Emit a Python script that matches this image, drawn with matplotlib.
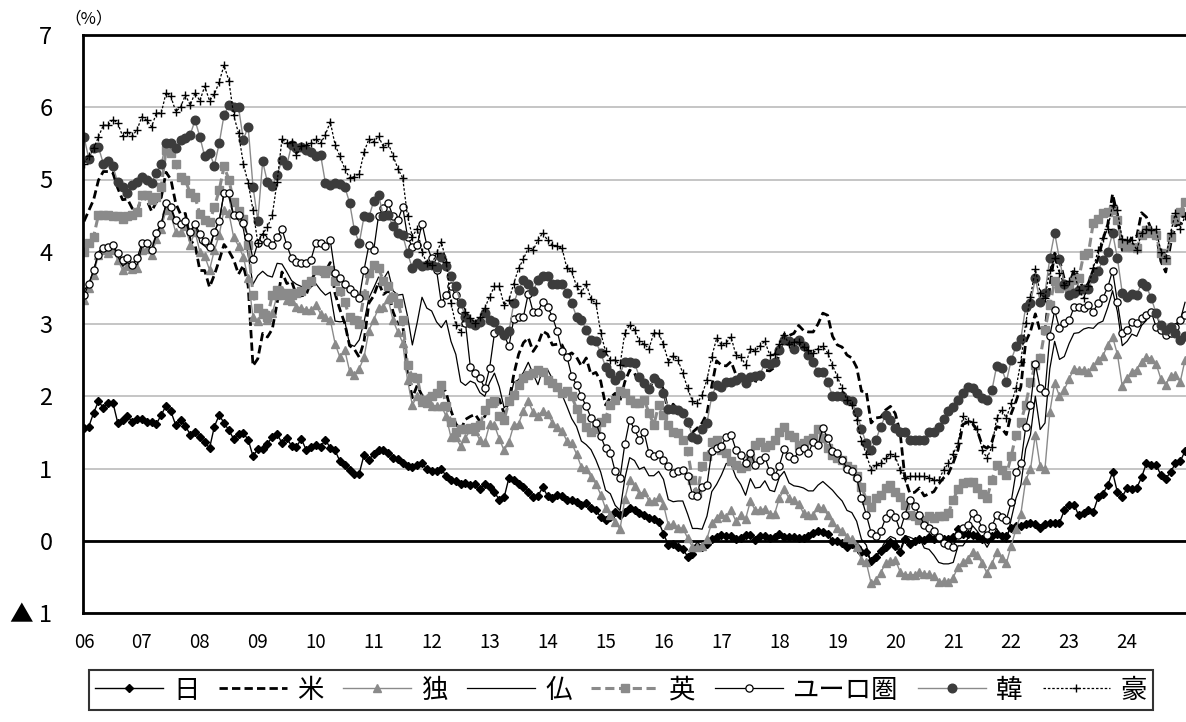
import numpy as np
import matplotlib
matplotlib.use('Agg')
import matplotlib.pyplot as plt

plt.rcParams['font.family'] = ['Noto Sans CJK JP', 'DejaVu Sans']

# 10-year government bond yields, monthly, Jan 2006 .. Jan 2025 (%)
year_labels = ['06', '07', '08', '09', '10', '11', '12', '13', '14', '15',
               '16', '17', '18', '19', '20', '21', '22', '23', '24']

japan = [
    1.56, 1.58, 1.77, 1.93, 1.84, 1.91, 1.91, 1.63, 1.67, 1.72, 1.65, 1.68,
    1.69, 1.64, 1.65, 1.62, 1.74, 1.87, 1.79, 1.60, 1.67, 1.59, 1.47, 1.51,
    1.44, 1.37, 1.28, 1.58, 1.74, 1.63, 1.53, 1.41, 1.48, 1.49, 1.40, 1.17,
    1.27, 1.27, 1.34, 1.44, 1.48, 1.35, 1.42, 1.31, 1.30, 1.41, 1.26, 1.30,
    1.32, 1.30, 1.40, 1.28, 1.25, 1.10, 1.05, 0.98, 0.93, 0.93, 1.19, 1.12,
    1.20, 1.26, 1.25, 1.21, 1.15, 1.13, 1.07, 1.03, 1.02, 1.05, 1.07, 0.99,
    0.96, 0.97, 1.00, 0.89, 0.84, 0.83, 0.78, 0.80, 0.77, 0.78, 0.71, 0.79,
    0.74, 0.67, 0.57, 0.60, 0.87, 0.84, 0.78, 0.74, 0.68, 0.60, 0.62, 0.74,
    0.62, 0.59, 0.64, 0.62, 0.57, 0.56, 0.53, 0.50, 0.52, 0.45, 0.42, 0.33,
    0.29, 0.33, 0.40, 0.35, 0.40, 0.46, 0.42, 0.38, 0.35, 0.31, 0.30, 0.26,
    0.10, -0.06, -0.05, -0.09, -0.11, -0.22, -0.19, -0.07, -0.09, -0.05, 0.02, 0.05,
    0.08, 0.06, 0.07, 0.02, 0.04, 0.08, 0.08, 0.01, 0.07, 0.07, 0.04, 0.05,
    0.09, 0.05, 0.05, 0.05, 0.04, 0.04, 0.06, 0.11, 0.13, 0.12, 0.09, 0.00,
    0.00, -0.03, -0.09, -0.05, -0.09, -0.16, -0.16, -0.28, -0.22, -0.14, -0.08, -0.02,
    -0.07, -0.16, 0.02, -0.04, 0.00, 0.02, 0.01, 0.05, 0.02, 0.04, 0.03, 0.02,
    0.05, 0.16, 0.09, 0.09, 0.08, 0.06, 0.02, 0.02, 0.07, 0.10, 0.07, 0.07,
    0.18, 0.20, 0.21, 0.23, 0.24, 0.23, 0.18, 0.23, 0.25, 0.25, 0.25, 0.42,
    0.49, 0.50, 0.35, 0.39, 0.43, 0.40, 0.60, 0.65, 0.77, 0.95, 0.67, 0.61,
    0.73, 0.71, 0.73, 0.88, 1.07, 1.05, 1.05, 0.91, 0.86, 0.95, 1.07, 1.10,
    1.24]

us = [
    4.42, 4.57, 4.72, 4.99, 5.11, 5.11, 5.09, 4.88, 4.72, 4.73, 4.60, 4.56,
    4.76, 4.72, 4.56, 4.69, 4.75, 5.10, 5.00, 4.67, 4.52, 4.53, 4.15, 4.10,
    3.74, 3.74, 3.51, 3.68, 3.88, 4.10, 4.01, 3.89, 3.69, 3.81, 3.53, 2.42,
    2.52, 2.87, 2.82, 2.93, 3.29, 3.72, 3.56, 3.59, 3.40, 3.39, 3.40, 3.59,
    3.73, 3.69, 3.73, 3.85, 3.42, 3.20, 3.01, 2.70, 2.65, 2.54, 2.76, 3.29,
    3.39, 3.58, 3.41, 3.46, 3.17, 3.00, 3.00, 2.30, 1.98, 2.15, 2.01, 1.98,
    1.97, 1.97, 2.17, 2.05, 1.80, 1.62, 1.53, 1.68, 1.72, 1.75, 1.65, 1.72,
    1.91, 1.98, 1.96, 1.76, 1.93, 2.30, 2.58, 2.74, 2.81, 2.62, 2.72, 2.90,
    2.86, 2.71, 2.72, 2.71, 2.56, 2.60, 2.54, 2.42, 2.53, 2.30, 2.33, 2.21,
    1.88, 1.98, 2.04, 1.94, 2.20, 2.36, 2.32, 2.17, 2.17, 2.07, 2.26, 2.24,
    2.09, 1.78, 1.89, 1.81, 1.81, 1.64, 1.50, 1.56, 1.63, 1.76, 2.14, 2.49,
    2.43, 2.42, 2.48, 2.30, 2.30, 2.19, 2.32, 2.21, 2.20, 2.36, 2.35, 2.40,
    2.58, 2.86, 2.84, 2.87, 2.98, 2.91, 2.89, 2.89, 3.00, 3.15, 3.12, 2.83,
    2.71, 2.68, 2.57, 2.53, 2.40, 2.07, 2.06, 1.63, 1.70, 1.71, 1.81, 1.86,
    1.76, 1.50, 0.87, 0.66, 0.67, 0.73, 0.62, 0.65, 0.68, 0.79, 0.87, 0.93,
    1.08, 1.26, 1.61, 1.64, 1.62, 1.52, 1.32, 1.28, 1.37, 1.58, 1.56, 1.47,
    1.76, 1.93, 2.13, 2.75, 2.90, 3.14, 2.90, 2.90, 3.52, 3.98, 3.89, 3.62,
    3.53, 3.75, 3.66, 3.46, 3.57, 3.75, 3.90, 4.17, 4.38, 4.80, 4.50, 4.02,
    4.06, 4.21, 4.21, 4.54, 4.48, 4.31, 4.25, 3.87, 3.72, 4.10, 4.36, 4.39,
    4.55]

germany = [
    3.33, 3.50, 3.68, 3.96, 4.02, 3.98, 4.02, 3.89, 3.75, 3.80, 3.76, 3.77,
    4.03, 4.04, 3.96, 4.17, 4.32, 4.58, 4.51, 4.27, 4.27, 4.35, 4.10, 4.28,
    4.00, 3.94, 3.75, 4.02, 4.23, 4.58, 4.54, 4.20, 4.08, 3.93, 3.63, 3.10,
    3.04, 3.14, 3.05, 3.15, 3.40, 3.47, 3.33, 3.32, 3.24, 3.22, 3.20, 3.19,
    3.26, 3.14, 3.09, 3.06, 2.73, 2.54, 2.64, 2.35, 2.30, 2.38, 2.54, 2.91,
    3.06, 3.22, 3.24, 3.34, 3.05, 2.89, 2.74, 2.22, 1.88, 2.00, 1.92, 1.97,
    1.87, 1.87, 1.87, 1.72, 1.43, 1.43, 1.31, 1.42, 1.54, 1.52, 1.39, 1.36,
    1.61, 1.60, 1.41, 1.25, 1.37, 1.60, 1.62, 1.80, 1.93, 1.78, 1.73, 1.80,
    1.76, 1.63, 1.57, 1.52, 1.38, 1.35, 1.20, 1.02, 1.00, 0.88, 0.79, 0.64,
    0.45, 0.35, 0.26, 0.16, 0.58, 0.84, 0.76, 0.65, 0.68, 0.55, 0.55, 0.60,
    0.50, 0.22, 0.23, 0.18, 0.17, 0.04, -0.09, -0.08, -0.07, 0.03, 0.25, 0.32,
    0.37, 0.33, 0.42, 0.27, 0.36, 0.30, 0.55, 0.42, 0.43, 0.44, 0.37, 0.37,
    0.59, 0.71, 0.59, 0.56, 0.51, 0.38, 0.35, 0.35, 0.47, 0.45, 0.36, 0.26,
    0.18, 0.14, 0.05, 0.02, -0.09, -0.26, -0.30, -0.59, -0.55, -0.44, -0.31, -0.28,
    -0.26, -0.43, -0.47, -0.47, -0.47, -0.43, -0.46, -0.46, -0.49, -0.57, -0.56, -0.57,
    -0.51, -0.36, -0.30, -0.25, -0.15, -0.20, -0.31, -0.45, -0.32, -0.15, -0.24, -0.31,
    -0.07, 0.16, 0.37, 0.84, 0.99, 1.47, 1.03, 1.00, 1.78, 2.19, 2.00, 2.09,
    2.24, 2.38, 2.37, 2.37, 2.33, 2.42, 2.50, 2.56, 2.71, 2.82, 2.58, 2.14,
    2.25, 2.34, 2.37, 2.48, 2.55, 2.52, 2.45, 2.24, 2.16, 2.28, 2.30, 2.20,
    2.50]

france = [
    3.46, 3.56, 3.74, 4.00, 4.06, 4.08, 4.09, 3.94, 3.80, 3.85, 3.81, 3.82,
    4.07, 4.10, 4.03, 4.23, 4.39, 4.66, 4.60, 4.41, 4.40, 4.43, 4.21, 4.41,
    4.13, 4.08, 4.02, 4.27, 4.44, 4.81, 4.76, 4.48, 4.44, 4.32, 3.95, 3.55,
    3.67, 3.73, 3.67, 3.65, 3.84, 3.83, 3.72, 3.60, 3.55, 3.52, 3.50, 3.51,
    3.56, 3.47, 3.40, 3.44, 3.04, 3.03, 3.04, 2.72, 2.69, 2.78, 3.03, 3.36,
    3.50, 3.65, 3.62, 3.73, 3.46, 3.40, 3.41, 3.11, 2.71, 3.02, 3.37, 3.22,
    3.18, 3.03, 2.95, 3.05, 2.76, 2.58, 2.20, 2.15, 2.21, 2.18, 2.05, 2.00,
    2.19, 2.32, 2.13, 1.84, 1.91, 2.19, 2.23, 2.33, 2.47, 2.31, 2.16, 2.37,
    2.37, 2.24, 2.17, 2.02, 1.86, 1.69, 1.58, 1.38, 1.33, 1.26, 1.12, 0.95,
    0.70, 0.65, 0.49, 0.42, 0.86, 1.15, 1.11, 0.99, 1.02, 0.90, 0.90, 0.96,
    0.85, 0.57, 0.54, 0.55, 0.55, 0.37, 0.17, 0.17, 0.16, 0.34, 0.68, 0.78,
    0.91, 1.07, 1.06, 0.88, 0.78, 0.63, 0.86, 0.73, 0.74, 0.83, 0.70, 0.68,
    0.88, 0.96, 0.80, 0.76, 0.75, 0.73, 0.69, 0.69, 0.77, 0.82, 0.76, 0.70,
    0.62, 0.55, 0.42, 0.39, 0.27, 0.02, -0.06, -0.31, -0.22, -0.12, 0.00, 0.06,
    0.03, -0.14, 0.07, 0.05, 0.02, 0.04, -0.10, -0.12, -0.20, -0.30, -0.32, -0.32,
    -0.30, -0.07, -0.07, 0.03, 0.21, 0.13, 0.03, -0.09, 0.03, 0.17, 0.05, -0.02,
    0.30, 0.59, 0.77, 1.27, 1.47, 2.00, 1.54, 1.63, 2.38, 2.76, 2.51, 2.55,
    2.73, 2.87, 2.88, 2.93, 2.95, 2.94, 3.01, 3.04, 3.23, 3.46, 3.17, 2.70,
    2.76, 2.86, 2.83, 2.98, 3.05, 3.18, 3.17, 2.92, 2.80, 2.88, 3.00, 3.05,
    3.30]

uk = [
    4.00, 4.12, 4.21, 4.51, 4.51, 4.51, 4.49, 4.49, 4.46, 4.49, 4.51, 4.55,
    4.79, 4.79, 4.72, 4.76, 4.90, 5.41, 5.36, 5.22, 5.04, 4.99, 4.81, 4.76,
    4.52, 4.44, 4.41, 4.62, 4.85, 5.18, 5.00, 4.69, 4.57, 4.46, 4.10, 3.40,
    3.22, 3.15, 3.10, 3.40, 3.47, 3.40, 3.43, 3.40, 3.43, 3.45, 3.55, 3.60,
    3.75, 3.75, 3.70, 3.75, 3.60, 3.45, 3.30, 3.10, 3.05, 3.00, 3.40, 3.70,
    3.82, 3.77, 3.60, 3.52, 3.38, 3.29, 3.06, 2.43, 2.27, 2.25, 1.95, 1.90,
    2.00, 2.04, 2.16, 1.86, 1.65, 1.51, 1.54, 1.54, 1.56, 1.58, 1.60, 1.81,
    1.90, 1.93, 1.72, 1.67, 1.93, 2.02, 2.16, 2.25, 2.30, 2.32, 2.37, 2.34,
    2.23, 2.18, 2.13, 2.04, 2.07, 2.00, 1.83, 1.70, 1.58, 1.51, 1.54, 1.65,
    1.70, 1.88, 1.95, 2.07, 2.04, 1.95, 1.90, 1.90, 1.95, 1.77, 1.60, 1.88,
    1.74, 1.60, 1.51, 1.49, 1.40, 1.24, 0.84, 0.66, 1.03, 1.17, 1.37, 1.40,
    1.26, 1.21, 1.10, 1.05, 1.01, 1.03, 1.14, 1.33, 1.37, 1.30, 1.33, 1.40,
    1.50, 1.58, 1.47, 1.44, 1.33, 1.35, 1.40, 1.42, 1.54, 1.42, 1.28, 1.19,
    1.14, 1.12, 1.03, 1.00, 0.90, 0.75, 0.57, 0.47, 0.59, 0.64, 0.73, 0.77,
    0.68, 0.61, 0.50, 0.36, 0.34, 0.29, 0.29, 0.34, 0.31, 0.34, 0.34, 0.38,
    0.57, 0.71, 0.80, 0.82, 0.82, 0.73, 0.65, 0.59, 0.84, 1.05, 0.98, 0.91,
    1.17, 1.47, 1.65, 1.88, 2.20, 2.43, 2.53, 2.92, 3.26, 3.59, 3.50, 3.52,
    3.50, 3.61, 3.63, 3.96, 3.98, 4.40, 4.45, 4.53, 4.55, 4.58, 4.44, 4.12,
    4.07, 4.07, 4.05, 4.23, 4.30, 4.26, 4.23, 3.98, 3.89, 4.20, 4.45, 4.55,
    4.69]

euro = [
    3.40, 3.55, 3.75, 3.96, 4.05, 4.07, 4.09, 3.98, 3.89, 3.91, 3.82, 3.91,
    4.12, 4.12, 4.02, 4.26, 4.39, 4.67, 4.62, 4.44, 4.39, 4.42, 4.28, 4.39,
    4.25, 4.15, 4.07, 4.28, 4.42, 4.81, 4.81, 4.51, 4.51, 4.40, 4.21, 3.90,
    4.12, 4.19, 4.14, 4.09, 4.20, 4.32, 4.09, 3.91, 3.86, 3.84, 3.84, 3.89,
    4.12, 4.12, 4.08, 4.16, 3.70, 3.63, 3.56, 3.49, 3.43, 3.36, 3.75, 4.09,
    4.02, 4.50, 4.60, 4.67, 4.49, 4.44, 4.62, 4.21, 4.06, 4.09, 4.39, 4.09,
    3.91, 3.75, 3.29, 3.40, 3.52, 3.40, 3.20, 3.01, 2.41, 2.32, 2.25, 2.11,
    2.39, 2.87, 2.92, 2.85, 2.69, 3.07, 3.10, 3.10, 3.42, 3.17, 3.17, 3.31,
    3.24, 3.10, 2.90, 2.62, 2.55, 2.28, 2.16, 2.00, 1.86, 1.70, 1.63, 1.45,
    1.28, 1.22, 0.96, 0.87, 1.34, 1.67, 1.54, 1.40, 1.50, 1.21, 1.17, 1.20,
    1.12, 1.04, 0.94, 0.97, 0.98, 0.89, 0.64, 0.62, 0.74, 0.77, 1.24, 1.28,
    1.31, 1.44, 1.47, 1.26, 1.18, 1.08, 1.22, 1.05, 1.12, 1.16, 0.96, 0.89,
    1.04, 1.27, 1.17, 1.13, 1.24, 1.29, 1.21, 1.37, 1.33, 1.56, 1.42, 1.24,
    1.21, 1.12, 1.00, 0.96, 0.87, 0.59, 0.36, 0.11, 0.06, 0.14, 0.31, 0.38,
    0.33, 0.14, 0.36, 0.57, 0.48, 0.36, 0.22, 0.18, 0.13, 0.05, -0.03, -0.06,
    -0.08, 0.08, 0.18, 0.22, 0.38, 0.31, 0.18, 0.08, 0.20, 0.36, 0.33, 0.29,
    0.54, 0.95, 1.07, 1.57, 1.88, 2.45, 2.11, 2.06, 2.83, 3.19, 2.94, 3.01,
    3.05, 3.23, 3.24, 3.22, 3.26, 3.17, 3.29, 3.36, 3.51, 3.74, 3.30, 2.87,
    2.92, 3.03, 3.01, 3.08, 3.13, 3.17, 2.96, 2.92, 2.85, 2.87, 2.96, 3.05,
    3.12]

korea = [
    5.59, 5.29, 5.43, 5.45, 5.22, 5.25, 5.18, 4.96, 4.90, 4.81, 4.92, 4.97,
    5.04, 4.99, 4.95, 5.09, 5.22, 5.50, 5.50, 5.43, 5.55, 5.58, 5.62, 5.82,
    5.59, 5.32, 5.37, 5.19, 5.50, 5.89, 6.03, 6.00, 6.00, 5.55, 5.73, 4.90,
    4.43, 5.25, 4.96, 4.91, 5.06, 5.27, 5.20, 5.48, 5.43, 5.45, 5.41, 5.38,
    5.32, 5.34, 4.95, 4.92, 4.95, 4.94, 4.90, 4.68, 4.30, 4.12, 4.49, 4.48,
    4.70, 4.79, 4.49, 4.51, 4.35, 4.26, 4.23, 3.98, 3.77, 3.84, 3.80, 3.82,
    3.82, 3.79, 3.93, 3.80, 3.66, 3.52, 3.29, 3.10, 3.02, 2.99, 3.03, 3.15,
    3.06, 3.03, 2.92, 2.85, 2.90, 3.29, 3.47, 3.61, 3.56, 3.45, 3.61, 3.67,
    3.66, 3.55, 3.55, 3.55, 3.43, 3.29, 3.10, 3.06, 2.92, 2.78, 2.76, 2.60,
    2.41, 2.32, 2.23, 2.30, 2.48, 2.48, 2.46, 2.27, 2.19, 2.10, 2.25, 2.19,
    2.04, 1.83, 1.83, 1.81, 1.77, 1.65, 1.44, 1.41, 1.54, 1.63, 2.00, 2.16,
    2.13, 2.20, 2.20, 2.23, 2.27, 2.19, 2.27, 2.28, 2.30, 2.46, 2.45, 2.48,
    2.64, 2.78, 2.76, 2.66, 2.78, 2.69, 2.57, 2.47, 2.33, 2.34, 2.20, 2.00,
    2.00, 2.00, 1.95, 1.93, 1.78, 1.54, 1.35, 1.26, 1.40, 1.58, 1.74, 1.67,
    1.56, 1.51, 1.51, 1.40, 1.40, 1.40, 1.40, 1.51, 1.51, 1.58, 1.68, 1.80,
    1.85, 1.95, 2.04, 2.13, 2.11, 2.04, 1.97, 1.95, 2.08, 2.42, 2.39, 2.20,
    2.50, 2.69, 2.79, 3.24, 3.29, 3.63, 3.31, 3.43, 3.91, 4.26, 3.90, 3.56,
    3.40, 3.43, 3.47, 3.49, 3.49, 3.63, 3.73, 3.89, 4.00, 4.26, 3.91, 3.43,
    3.38, 3.42, 3.40, 3.57, 3.52, 3.36, 3.15, 2.99, 2.92, 2.96, 2.87, 2.78,
    2.83]

australia = [
    5.22, 5.32, 5.43, 5.59, 5.75, 5.75, 5.83, 5.78, 5.60, 5.66, 5.60, 5.69,
    5.87, 5.82, 5.73, 5.92, 5.92, 6.20, 6.15, 5.94, 6.00, 6.17, 6.03, 6.20,
    6.09, 6.29, 6.09, 6.18, 6.35, 6.58, 6.37, 5.89, 5.64, 5.22, 4.95, 4.58,
    4.12, 4.25, 4.34, 4.51, 4.97, 5.56, 5.50, 5.52, 5.34, 5.46, 5.48, 5.50,
    5.56, 5.50, 5.62, 5.80, 5.48, 5.32, 5.15, 5.02, 5.04, 5.08, 5.38, 5.56,
    5.52, 5.60, 5.45, 5.50, 5.33, 5.15, 5.02, 4.49, 4.21, 4.32, 4.00, 3.84,
    3.82, 3.98, 4.14, 3.86, 3.29, 2.99, 2.89, 3.17, 3.08, 3.02, 3.10, 3.22,
    3.38, 3.52, 3.52, 3.26, 3.33, 3.56, 3.77, 3.90, 4.05, 4.02, 4.16, 4.26,
    4.16, 4.09, 4.08, 4.05, 3.77, 3.73, 3.52, 3.43, 3.56, 3.34, 3.29, 2.88,
    2.62, 2.50, 2.50, 2.43, 2.88, 2.99, 2.92, 2.76, 2.72, 2.66, 2.88, 2.87,
    2.72, 2.48, 2.56, 2.50, 2.32, 2.11, 1.93, 1.90, 2.02, 2.23, 2.55, 2.80,
    2.71, 2.74, 2.82, 2.57, 2.55, 2.43, 2.66, 2.62, 2.70, 2.76, 2.57, 2.59,
    2.73, 2.85, 2.72, 2.75, 2.75, 2.68, 2.64, 2.60, 2.66, 2.69, 2.60, 2.43,
    2.27, 2.11, 1.95, 1.88, 1.67, 1.38, 1.20, 0.98, 1.05, 1.07, 1.14, 1.20,
    1.17, 0.98, 0.87, 0.89, 0.89, 0.89, 0.89, 0.87, 0.84, 0.84, 0.98, 1.07,
    1.20, 1.35, 1.72, 1.66, 1.65, 1.54, 1.26, 1.14, 1.30, 1.70, 1.81, 1.70,
    1.90, 2.11, 2.48, 3.01, 3.38, 3.76, 3.43, 3.36, 3.75, 3.91, 3.70, 3.54,
    3.59, 3.73, 3.47, 3.36, 3.52, 3.77, 4.02, 4.19, 4.32, 4.65, 4.58, 4.17,
    4.16, 4.16, 4.02, 4.26, 4.31, 4.30, 4.31, 4.00, 3.91, 4.26, 4.54, 4.32,
    4.49]

months = np.arange(len(japan))

fig = plt.figure(figsize=(11.86, 7.22), dpi=100)
ax = fig.add_axes([83 / 1186, 1 - 613 / 722, 1 - 83 / 1186, (613 - 35) / 722])

gray = '#8a8a8a'
dark = '#3c3c3c'

ax.plot(months, japan, color='black', lw=1.0, marker='D', ms=4.2, label='日')
ax.plot(months, us, color='black', lw=2.0, ls=(0, (3, 1.5)), label='米')
ax.plot(months, germany, color=gray, lw=1.0, marker='^', ms=5.5, label='独')
ax.plot(months, france, color='black', lw=0.9, label='仏')
ax.plot(months, uk, color=gray, lw=2.2, ls=(0, (3, 1.5)), marker='s', ms=5.5,
        label='英')
ax.plot(months, euro, color='black', lw=0.9, marker='o', ms=5.2, mfc='white',
        mec='black', mew=0.9, label='ユーロ圏')
ax.plot(months, korea, color=gray, lw=1.0, marker='o', ms=6.2, mfc=dark,
        mec=dark, label='韓')
ax.plot(months, australia, color='black', lw=0.9, ls=(0, (2, 1.5)), marker='+',
        ms=6, mew=1.0, label='豪')

ax.axhline(0, color='black', lw=2.0, zorder=1.5)

ax.set_xlim(-0.2, 228.2)
ax.set_ylim(-1, 7)
ax.set_yticks(range(-1, 8))
ax.set_yticklabels(['▲ 1'] + [str(v) for v in range(0, 8)])
ax.set_xticks(np.arange(len(year_labels)) * 12)
ax.set_xticklabels(year_labels)
ax.tick_params(axis='y', length=0, labelsize=17, pad=22)
ax.tick_params(axis='x', length=0, labelsize=13.5, pad=14)
ax.yaxis.grid(True, color='#c0c0c0', lw=1.3)
ax.set_axisbelow(True)

for side in ['left', 'top', 'bottom']:
    ax.spines[side].set_linewidth(2.0)
    ax.spines[side].set_color('black')
ax.spines['right'].set_visible(False)

fig.text(89 / 1186, 1 - 19 / 722, '（%）', fontsize=12, ha='center',
         va='center')

handles, labels = ax.get_legend_handles_labels()
leg = fig.legend(handles, labels, ncol=8, loc='center',
                 bbox_to_anchor=(621 / 1186, 1 - 690 / 722), fontsize=19,
                 frameon=True, fancybox=False, edgecolor='black',
                 handlelength=2.55, handletextpad=0.4, columnspacing=0.75,
                 borderpad=0.25, borderaxespad=0.0)
leg.get_frame().set_linewidth(1.5)

fig.savefig('out.png', dpi=100)
